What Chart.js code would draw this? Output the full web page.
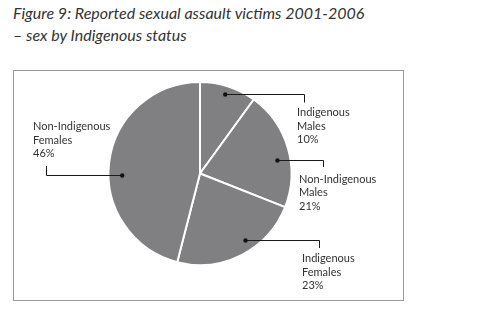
<!DOCTYPE html>
<html>
<head>
<meta charset="utf-8">
<script src="https://cdn.jsdelivr.net/npm/chart.js@4/dist/chart.umd.min.js"></script>
<style>
  html, body { margin: 0; padding: 0; background: #fff; }
  #wrap { position: relative; width: 493px; height: 311px; overflow: hidden; }
  #title { position: absolute; left: 13px; top: 2px; font-family: Lato, "Open Sans", sans-serif;
           font-style: italic; font-size: 16px; line-height: 22px; color: #333; white-space: nowrap; }
  #frame { position: absolute; left: 13px; top: 70px; width: 389px; height: 229px; border: 1px solid #9a9a9a; }
  canvas { position: absolute; left: 0; top: 0; }
</style>
</head>
<body>
<div id="wrap">
  <div id="title">Figure 9: Reported sexual assault victims 2001-2006<br>– sex by Indigenous status</div>
  <div id="frame"></div>
  <canvas id="c" width="493" height="311"></canvas>
</div>
<script>
// Data
const categories = ["Indigenous Males", "Non-Indigenous Males", "Indigenous Females", "Non-Indigenous Females"];
const labelLines = [["Indigenous", "Males"], ["Non-Indigenous", "Males"], ["Indigenous", "Females"], ["Non-Indigenous", "Females"]];
const percentages = [10, 21, 23, 46];

// Label layout (annotation placement, not data)
const labelLayout = [
  { t: 0.49, rf: 0.91, lineX: 304, tickY: 102.5, textX: 297, textY: 112.5 },
  { t: 0.58, rf: 0.86, lineX: 323, tickY: 167,   textX: 299, textY: 179 },
  { t: 0.41, rf: 0.88, lineX: 319, tickY: 248,   textX: 302, textY: 258.5 },
  { t: 0.45, rf: 0.85, lineX: 46,  tickY: 166,   textX: 33,  textY: 126.5 }
];

const leaderPlugin = {
  id: 'leaders',
  afterDatasetsDraw(chart) {
    const ctx = chart.ctx;
    const meta = chart.getDatasetMeta(0);
    ctx.save();
    meta.data.forEach((arc, i) => {
      const p = arc.getProps(['x', 'y', 'startAngle', 'endAngle', 'outerRadius'], true);
      const L = labelLayout[i];
      const a = p.startAngle + L.t * (p.endAngle - p.startAngle);
      const dx = p.x + Math.cos(a) * L.rf * p.outerRadius;
      const dy = p.y + Math.sin(a) * L.rf * p.outerRadius;
      ctx.strokeStyle = '#1a1a1a';
      ctx.lineWidth = 1;
      ctx.beginPath();
      const yy = Math.round(dy) + 0.5;
      ctx.moveTo(dx, yy);
      ctx.lineTo(Math.round(L.lineX) + 0.5, yy);
      ctx.lineTo(Math.round(L.lineX) + 0.5, L.tickY);
      ctx.stroke();
      ctx.fillStyle = '#111';
      ctx.beginPath();
      ctx.arc(dx, yy, 2.2, 0, Math.PI * 2);
      ctx.fill();
      ctx.fillStyle = '#333';
      ctx.font = '11px Lato, "Open Sans", sans-serif';
      ctx.textAlign = 'left';
      ctx.textBaseline = 'middle';
      const lines = labelLines[i].concat([percentages[i] + '%']);
      lines.forEach((s, k) => ctx.fillText(s, L.textX, L.textY + k * 13.7));
    });
    ctx.restore();
  }
};

new Chart(document.getElementById('c'), {
  type: 'pie',
  data: {
    labels: categories,
    datasets: [{
      data: percentages,
      backgroundColor: '#808083',
      borderColor: '#ffffff',
      borderWidth: 2
    }]
  },
  options: {
    responsive: false,
    animation: false,
    layout: { padding: { left: 107, right: 200, top: 81, bottom: 45 } },
    plugins: { legend: { display: false }, tooltip: { enabled: false }, title: { display: false } }
  },
  plugins: [leaderPlugin]
});
</script>
</body>
</html>
